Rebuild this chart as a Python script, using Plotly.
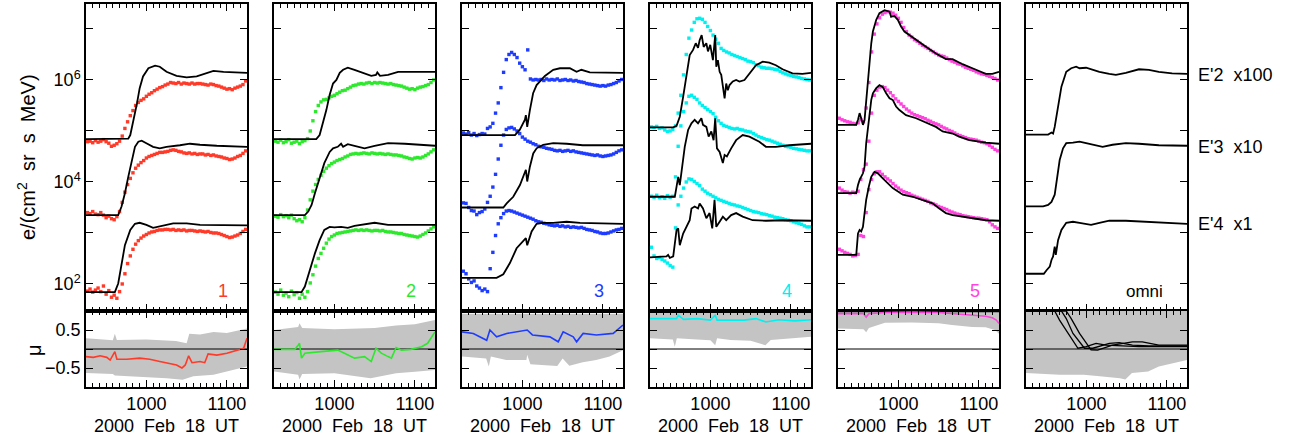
import numpy as np
import plotly.graph_objects as go

# ---------------- data (time in minutes of day, fluxes as log10) ----------------
T_DOT = list(range(556, 676, 2))          # sample times of the measured points
X_RANGE = [555, 675]                       # 09:15 .. 11:15 UT
X_TICKS = [600, 660]
X_TICKTEXT = ["1000", "1100"]
COLORS = ["#ff3a28", "#2ee82e", "#1e3cff", "#00f0f0", "#ff44dd"]
PANEL_LABELS = ["1", "2", "3", "4", "5", "omni"]
CURVE_LABELS = ["E'2\u00a0 x100", "E'3\u00a0 x10", "E'4\u00a0 x1"]

# ---- panel 1 ----
P1_UP_DOTS = [4.79,4.80,4.77,4.81,4.78,4.80,4.83,4.79,4.76,4.70,4.72,4.75,4.80,4.90,5.05,5.18,5.30,5.40,5.50,5.56,
              5.60,5.63,5.68,5.72,5.75,5.79,5.82,5.85,5.87,5.90,5.92,5.95,5.94,5.93,5.95,5.92,5.94,5.93,5.92,5.94,
              5.92,5.93,5.93,5.92,5.91,5.90,5.92,5.91,5.89,5.88,5.86,5.84,5.82,5.83,5.81,5.84,5.86,5.88,5.91,5.98]
P1_MID_DOTS = [3.40,3.38,3.42,3.37,3.36,3.40,3.35,3.30,3.33,3.28,3.26,3.32,3.42,3.60,3.80,3.95,4.07,4.18,4.27,4.33,
               4.38,4.42,4.47,4.50,4.52,4.54,4.56,4.58,4.58,4.59,4.60,4.62,4.63,4.62,4.60,4.59,4.57,4.56,4.57,4.55,
               4.56,4.54,4.55,4.55,4.53,4.54,4.52,4.53,4.51,4.50,4.49,4.47,4.46,4.44,4.45,4.47,4.50,4.52,4.56,4.61]
P1_LOW_DOTS = [1.86,1.90,1.84,1.88,1.92,1.85,1.96,1.80,1.87,1.74,1.78,1.72,1.85,2.00,2.20,2.40,2.55,2.68,2.78,2.85,
               2.90,2.94,2.97,3.00,3.02,3.03,3.05,3.06,3.06,3.07,3.07,3.06,3.07,3.05,3.06,3.05,3.06,3.04,3.05,3.05,
               3.04,3.03,3.04,3.03,3.02,3.03,3.01,3.00,3.00,2.99,2.97,2.95,2.93,2.91,2.92,2.94,2.96,2.99,3.03,3.07]
P1_UP_T = [555, 586.5, 588, 590.5, 593, 595, 597.5, 601.5, 606.5, 610, 615, 622.5, 630, 637.5, 642.5, 650, 657.5, 675]
P1_UP_V = [4.84, 4.85, 4.92, 5.22, 5.54, 5.84, 6.07, 6.23, 6.28, 6.26, 6.16, 6.08, 6.05, 6.07, 6.12, 6.18, 6.16, 6.14]
P1_MID_T = [555, 579, 581.5, 584, 586.5, 589, 591.5, 594, 596.5, 600, 605, 610, 615, 625, 632.5, 640, 652.5, 675]
P1_MID_V = [3.35, 3.35, 3.52, 3.78, 4.10, 4.43, 4.69, 4.79, 4.81, 4.76, 4.69, 4.66, 4.69, 4.72, 4.75, 4.73, 4.71, 4.69]
P1_LOW_T = [555, 576.5, 579, 581.5, 584, 588, 591.5, 595, 600, 605, 612.5, 620, 630, 640, 675]
P1_LOW_V = [1.84, 1.84, 2.01, 2.41, 2.76, 3.06, 3.18, 3.20, 3.16, 3.10, 3.14, 3.19, 3.19, 3.16, 3.15]
P1_MU_T = [555, 560.5, 565.5, 570.5, 573, 575.5, 576.5, 578, 585.5, 595, 602.5, 610, 615, 622.5, 626.5, 629, 631.5,
           634, 640, 643.5, 646, 652.5, 660, 667.5, 672.5, 675]
P1_MU_V = [-0.20, -0.22, -0.18, -0.22, -0.29, -0.11, -0.07, -0.27, -0.27, -0.24, -0.27, -0.33, -0.37, -0.42, -0.50,
           -0.42, -0.18, -0.36, -0.33, -0.36, -0.13, -0.16, -0.11, -0.03, 0.02, 0.28]
P1_BAND_UP_T = [555, 575, 576.5, 578, 600, 622, 630, 632, 640, 650, 660, 675]
P1_BAND_UP_V = [0.28, 0.23, 0.40, 0.24, 0.25, 0.21, 0.15, 0.40, 0.38, 0.45, 0.42, 0.54]
P1_BAND_LO_T = [555, 575, 576.5, 590, 615, 627, 635, 650, 660, 675]
P1_BAND_LO_V = [-0.63, -0.66, -0.70, -0.72, -0.77, -0.81, -0.72, -0.68, -0.60, -0.46]

# ---- panel 2 ----
P2_UP_DOTS = [4.80,4.78,4.82,4.77,4.79,4.83,4.76,4.78,4.80,4.75,4.79,4.81,4.85,5.00,5.20,5.38,5.50,5.57,5.61,5.62,
              5.65,5.68,5.70,5.73,5.76,5.79,5.80,5.83,5.86,5.89,5.90,5.92,5.93,5.92,5.94,5.95,5.93,5.95,5.94,5.95,
              5.94,5.93,5.92,5.93,5.91,5.90,5.89,5.88,5.86,5.84,5.82,5.83,5.81,5.84,5.86,5.87,5.89,5.91,5.95,6.00]
P2_MID_DOTS = [3.33,3.31,3.36,3.32,3.34,3.30,3.35,3.28,3.24,3.26,3.22,3.30,3.45,3.65,3.82,3.95,4.05,4.13,4.21,4.27,
               4.32,4.36,4.39,4.42,4.44,4.46,4.49,4.51,4.54,4.55,4.56,4.55,4.56,4.57,4.56,4.55,4.57,4.56,4.55,4.56,
               4.55,4.54,4.55,4.54,4.53,4.53,4.52,4.51,4.49,4.48,4.46,4.45,4.47,4.48,4.47,4.49,4.52,4.55,4.59,4.63]
P2_LOW_DOTS = [1.84,1.80,1.88,1.78,1.82,1.75,1.86,1.79,1.83,1.72,1.80,1.74,1.85,2.02,2.18,2.35,2.50,2.60,2.70,2.80,
               2.88,2.93,2.96,2.99,3.00,3.01,3.02,3.03,3.04,3.05,3.06,3.05,3.06,3.05,3.06,3.05,3.04,3.05,3.05,3.04,
               3.05,3.03,3.02,3.02,3.01,3.00,2.99,2.99,2.97,2.96,2.95,2.94,2.93,2.92,2.94,2.97,3.00,3.04,3.08,3.12]
P2_UP_T = [555, 586.5, 589, 591.5, 594, 596.5, 599, 601.5, 602.5, 604, 606.5, 610, 615, 622.5, 627.5, 631, 632, 634,
           640, 647.5, 665, 675]
P2_UP_V = [4.84, 4.84, 4.92, 5.15, 5.41, 5.71, 5.93, 6.00, 6.05, 6.14, 6.20, 6.24, 6.20, 6.12, 6.08, 6.10, 6.15, 6.08,
           6.10, 6.16, 6.16, 6.16]
P2_MID_T = [555, 578, 580.5, 583, 585.5, 589, 592.5, 596.5, 599, 602.5, 605, 606.5, 610, 615, 622.5, 630, 640, 652.5, 675]
P2_MID_V = [3.35, 3.35, 3.42, 3.55, 3.78, 4.10, 4.37, 4.59, 4.66, 4.69, 4.75, 4.69, 4.74, 4.71, 4.66, 4.71, 4.76, 4.75, 4.71]
P2_LOW_T = [555, 575.5, 578, 581.5, 585.5, 589, 592.5, 596.5, 600, 605, 610, 615, 625, 630, 640, 675]
P2_LOW_V = [1.84, 1.84, 1.95, 2.27, 2.60, 2.86, 3.06, 3.12, 3.11, 3.12, 3.10, 3.14, 3.18, 3.20, 3.16, 3.16]
P2_MU_T = [555, 570.5, 573, 574, 575.5, 578, 590, 602.5, 607.5, 615, 622.5, 627.5, 631, 635, 640, 642.5, 646, 650,
           657, 665, 669.5, 675]
P2_MU_V = [-0.01, -0.01, 0.10, 0.15, -0.24, -0.11, -0.07, -0.03, -0.11, -0.24, -0.20, -0.33, 0.02, -0.11, -0.20,
           -0.24, 0.04, -0.03, -0.01, 0.06, 0.15, 0.45]
P2_BAND_UP_T = [555, 573, 574, 576, 600, 630, 646, 660, 675]
P2_BAND_UP_V = [0.50, 0.58, 0.68, 0.55, 0.52, 0.55, 0.62, 0.65, 0.76]
P2_BAND_LO_T = [555, 573, 574, 576, 600, 627, 646, 660, 675]
P2_BAND_LO_V = [-0.59, -0.68, -0.80, -0.66, -0.64, -0.77, -0.64, -0.60, -0.55]

# ---- panel 3 ----
P3_UP_DOTS = [4.96,4.94,4.97,4.92,4.95,4.91,4.93,4.95,4.94,5.05,5.08,5.15,5.35,5.55,5.85,6.15,6.40,6.50,6.54,6.50,
              6.44,6.33,6.26,6.20,6.59,6.02,6.00,6.01,6.00,6.01,5.99,6.02,6.00,6.01,6.00,6.02,5.99,6.00,6.01,5.99,
              6.00,5.98,5.99,5.97,5.96,5.95,5.93,5.92,5.91,5.90,5.89,5.88,5.89,5.88,5.90,5.91,5.93,5.95,5.98,6.01]
P3_MID_DOTS = [3.59,3.58,3.50,3.44,3.43,3.36,3.40,3.42,3.47,3.60,3.72,3.90,4.15,4.45,4.72,4.92,5.03,5.06,5.07,5.04,
               5.00,4.95,4.88,4.84,4.80,4.78,4.75,4.73,4.70,4.69,4.68,4.66,4.65,4.64,4.62,4.61,4.62,4.60,4.61,4.62,
               4.60,4.61,4.59,4.58,4.57,4.56,4.55,4.54,4.53,4.52,4.53,4.51,4.50,4.51,4.52,4.53,4.55,4.58,4.61,4.63]
P3_LOW_DOTS = [2.25,2.20,2.10,2.03,2.06,1.96,1.92,1.87,1.90,1.85,2.30,2.62,2.95,3.18,3.30,3.38,3.43,3.44,3.43,3.41,
               3.39,3.37,3.35,3.33,3.31,3.29,3.27,3.24,3.22,3.21,3.19,3.18,3.16,3.15,3.14,3.15,3.13,3.14,3.12,3.13,
               3.11,3.12,3.11,3.10,3.11,3.09,3.07,3.06,3.05,3.03,3.02,3.00,2.99,2.99,3.00,3.02,3.04,3.06,3.07,3.09]
P3_UP_T = [555, 594.5, 598, 601.9, 602.6, 603.6, 605.6, 608, 610.6, 613, 616.8, 623, 628, 635.4, 640.4, 644, 650.3, 675]
P3_UP_V = [4.92, 4.92, 5.02, 5.22, 5.31, 5.08, 5.41, 5.74, 5.90, 5.97, 6.08, 6.20, 6.23, 6.23, 6.16, 6.20, 6.15, 6.14]
P3_MID_T = [555, 585.8, 588.3, 593.2, 598.2, 601.9, 602.6, 603.6, 605.6, 608.1, 610.6, 615.5, 623, 633, 645, 675]
P3_MID_V = [3.50, 3.50, 3.58, 3.71, 3.94, 4.20, 4.24, 4.01, 4.30, 4.56, 4.66, 4.73, 4.76, 4.75, 4.72, 4.72]
P3_LOW_T = [555, 580.8, 585.8, 590.7, 595.7, 600.7, 602.6, 603.6, 606.9, 610.6, 615.5, 623, 633, 643, 675]
P3_LOW_V = [2.12, 2.12, 2.19, 2.41, 2.70, 2.83, 2.90, 2.76, 3.03, 3.18, 3.20, 3.20, 3.22, 3.20, 3.18]
P3_MU_T = [555, 563.4, 573.4, 575.8, 580.8, 588.3, 603.6, 607.5, 620.5, 626.7, 630.4, 637.9, 640.4, 645.3, 655.2,
           667.7, 675]
P3_MU_V = [0.45, 0.41, 0.23, 0.50, 0.32, 0.41, 0.50, 0.37, 0.32, 0.19, 0.45, 0.32, 0.19, 0.41, 0.37, 0.41, 0.63]
P3_BAND_UP_T = [555, 675]
P3_BAND_UP_V = [0.93, 0.93]
P3_BAND_LO_T = [555, 573, 575, 576.5, 588, 603, 603.6, 606, 626, 630, 635, 645, 655, 665, 675]
P3_BAND_LO_V = [-0.20, -0.25, -0.46, -0.20, -0.29, -0.29, -0.15, -0.40, -0.45, -0.25, -0.44, -0.35, -0.29, -0.20, -0.03]

# ---- panel 4 ----
P4_UP_DOTS = [5.08,5.07,5.09,5.05,5.06,5.02,4.99,5.00,5.03,5.10,5.35,5.70,6.10,6.50,6.82,6.98,7.13,7.20,7.21,7.19,
              7.13,7.05,6.97,6.88,6.80,6.72,6.62,6.58,6.55,6.53,6.50,6.48,6.46,6.44,6.42,6.40,6.37,6.36,6.34,6.30,
              6.28,6.25,6.24,6.23,6.23,6.22,6.21,6.20,6.17,6.14,6.12,6.10,6.09,6.07,6.06,6.05,6.03,6.02,6.01,6.00]
P4_MID_DOTS = [3.72,3.70,3.74,3.69,3.71,3.68,3.73,3.70,3.72,4.10,4.70,5.10,5.38,5.55,5.68,5.70,5.66,5.62,5.55,5.50,
               5.46,5.42,5.38,5.34,5.27,5.20,5.15,5.11,5.09,5.07,5.05,5.04,5.05,5.03,5.02,5.00,4.99,4.98,4.95,4.92,
               4.89,4.87,4.85,4.83,4.82,4.80,4.78,4.76,4.74,4.72,4.70,4.69,4.68,4.66,4.65,4.64,4.63,4.62,4.61,4.61]
P4_LOW_DOTS = [2.72,2.55,2.50,2.52,2.48,2.45,2.41,2.36,2.33,3.10,3.55,3.72,3.88,4.00,4.06,4.05,4.01,3.97,3.93,3.86,
               3.82,3.78,3.75,3.72,3.69,3.66,3.64,3.62,3.60,3.58,3.56,3.55,3.53,3.52,3.50,3.48,3.46,3.44,3.42,3.41,
               3.40,3.38,3.37,3.36,3.34,3.33,3.31,3.30,3.29,3.28,3.26,3.25,3.24,3.22,3.20,3.19,3.17,3.14,3.12,3.12]
P4_UP_T = [555, 572.3, 574.8, 577.2, 579.7, 582.2, 584.6, 587.1, 589.1, 590.8, 592, 593.5, 595, 597, 598.2, 599.9,
           601.9, 603.6, 604.4, 605.6, 606.9, 608.1, 609.3, 610.6, 611.8, 613, 614.3, 616.7, 619.2, 621.7, 625.4,
           629.1, 634, 639, 643.9, 648.8, 653.8, 661.2, 668.6, 675]
P4_UP_V = [5.07, 5.07, 5.10, 5.28, 5.67, 6.13, 6.49, 6.59, 6.72, 6.63, 6.78, 6.88, 6.65, 6.72, 6.56, 6.69, 6.39, 6.88,
           6.26, 6.39, 6.16, 6.10, 5.87, 5.64, 5.93, 5.80, 5.90, 5.97, 6.00, 5.97, 6.00, 6.13, 6.29, 6.36, 6.34, 6.29,
           6.21, 6.13, 6.12, 6.14]
P4_MID_T = [555, 573.5, 574.8, 576, 577.2, 578.5, 580.9, 583.4, 585.9, 588.3, 590.8, 593.3, 594.5, 597, 598.7, 600.7,
            602.4, 603.6, 604.9, 606.9, 608.1, 609.3, 610.6, 612.3, 615.5, 619.2, 624.1, 629.1, 636.5, 641.4, 648.8,
            658.7, 675]
P4_MID_V = [3.71, 3.71, 3.91, 4.10, 3.94, 4.24, 4.69, 5.02, 5.15, 5.22, 5.15, 5.25, 5.12, 5.08, 4.89, 4.99, 4.82, 5.25,
            4.66, 4.59, 4.50, 4.37, 4.53, 4.50, 4.66, 4.82, 4.92, 4.89, 4.79, 4.69, 4.69, 4.72, 4.75]
P4_LOW_T = [555, 567.3, 568.5, 569.8, 572.3, 574.8, 576, 577.2, 579.7, 582.2, 584.6, 585.9, 588.3, 590.8, 592, 594.5,
            597, 599.4, 601.4, 603.1, 604.4, 606.9, 609.3, 611.8, 615.5, 619.2, 624.1, 631.5, 641.4, 653.8, 663.6, 675]
P4_LOW_V = [2.52, 2.54, 2.57, 2.51, 2.54, 3.06, 3.09, 2.76, 2.99, 3.12, 3.25, 3.48, 3.52, 3.48, 3.58, 3.48, 3.29, 3.39,
            3.09, 3.65, 3.12, 3.22, 3.32, 3.25, 3.35, 3.39, 3.32, 3.25, 3.24, 3.25, 3.24, 3.24]
P4_MU_T = [555, 574.8, 576, 580, 590, 600, 603.6, 605, 615, 625, 634, 641.4, 651, 663, 675]
P4_MU_V = [0.80, 0.80, 0.89, 0.78, 0.80, 0.76, 0.89, 0.76, 0.76, 0.76, 0.80, 0.71, 0.77, 0.74, 0.77]
P4_BAND_UP_T = [555, 675]
P4_BAND_UP_V = [0.95, 0.95]
P4_BAND_LO_T = [555, 572, 573.5, 575, 590, 600, 603.6, 605, 615, 630, 641, 645, 660, 675]
P4_BAND_LO_V = [0.28, 0.25, 0.06, 0.28, 0.25, 0.23, 0.10, 0.28, 0.24, 0.22, 0.10, 0.24, 0.28, 0.32]

# ---- panel 5 ----
P5_UP_DOTS = [5.25,5.22,5.20,5.18,5.17,5.15,5.14,5.16,5.22,5.18,5.45,5.95,6.55,6.90,7.10,7.22,7.29,7.32,7.34,7.33,
              7.31,7.27,7.21,7.13,7.03,6.95,6.88,6.84,6.79,6.76,6.72,6.68,6.65,6.62,6.58,6.55,6.52,6.49,6.47,6.46,
              6.43,6.40,6.37,6.35,6.32,6.31,6.28,6.25,6.23,6.21,6.19,6.16,6.14,6.12,6.11,6.09,6.07,6.05,6.03,6.00]
P5_MID_DOTS = [3.88,3.84,3.81,3.80,3.78,3.80,3.79,3.82,4.05,4.24,4.35,4.80,5.35,5.70,5.80,5.86,5.87,5.85,5.80,5.75,
               5.69,5.63,5.58,5.53,5.48,5.43,5.39,5.35,5.32,5.30,5.28,5.26,5.24,5.21,5.19,5.16,5.14,5.12,5.09,5.06,
               5.04,5.01,4.99,4.96,4.93,4.91,4.89,4.87,4.85,4.84,4.83,4.82,4.80,4.78,4.77,4.75,4.72,4.68,4.64,4.61]
P5_LOW_DOTS = [2.68,2.65,2.62,2.60,2.58,2.55,2.56,2.58,2.95,2.93,3.40,3.85,4.05,4.16,4.20,4.20,4.15,4.10,4.06,4.02,
               3.97,3.92,3.88,3.84,3.81,3.79,3.77,3.74,3.72,3.70,3.68,3.66,3.64,3.62,3.59,3.57,3.55,3.52,3.50,3.48,
               3.46,3.43,3.41,3.39,3.37,3.36,3.34,3.33,3.32,3.31,3.30,3.29,3.29,3.28,3.27,3.26,3.22,3.16,3.12,3.09]
P5_UP_T = [555, 568.6, 569.9, 571.1, 572.3, 573.6, 574.8, 576, 577.3, 578.5, 579.8, 581, 583.5, 585.9, 589.7, 593.4,
           594.6, 595.8, 597.1, 599.6, 602, 604.5, 608.2, 613.2, 620.6, 628, 633, 635.4, 640.4, 647.8, 655.2, 660.2,
           665.1, 670.1, 675]
P5_UP_V = [5.12, 5.12, 5.22, 5.35, 5.25, 5.12, 5.22, 5.61, 6.00, 6.39, 6.72, 6.95, 7.18, 7.31, 7.37, 7.34, 7.24, 7.25,
           7.25, 7.18, 7.05, 6.95, 6.88, 6.78, 6.65, 6.52, 6.44, 6.41, 6.41, 6.31, 6.23, 6.18, 6.12, 6.12, 6.16]
P5_MID_T = [555, 568.6, 569.9, 571.1, 573.6, 574.8, 576, 577.3, 578.5, 579.8, 581, 583.5, 585.9, 588.4, 590.9, 593.4,
            595.8, 598.3, 600.8, 605.7, 613.2, 620.6, 628, 633, 640.4, 645.3, 652.8, 660.2, 665.1, 675]
P5_MID_V = [3.78, 3.78, 3.94, 4.04, 4.17, 4.30, 4.76, 5.08, 5.35, 5.61, 5.74, 5.84, 5.90, 5.86, 5.74, 5.64, 5.61, 5.48,
            5.41, 5.31, 5.25, 5.16, 5.08, 4.99, 4.95, 4.89, 4.82, 4.79, 4.77, 4.75]
P5_LOW_T = [555, 568.6, 569.9, 571.1, 572.3, 573.6, 574.8, 576, 578, 579.8, 582.2, 584.7, 588.4, 593.4, 595.8, 598.3,
            603.3, 610.7, 618.1, 625.5, 630.5, 635.4, 640.4, 647.8, 657.7, 665.1, 675]
P5_LOW_V = [2.57, 2.57, 2.99, 3.06, 3.03, 3.12, 3.39, 3.65, 3.91, 4.10, 4.20, 4.17, 4.07, 3.94, 3.88, 3.84, 3.75, 3.71,
            3.65, 3.58, 3.48, 3.39, 3.35, 3.32, 3.29, 3.25, 3.24]
P5_MU_T = [555, 574, 576, 578, 590, 610, 630, 640, 652, 665, 670, 673, 675]
P5_MU_V = [0.93, 0.93, 0.84, 0.93, 0.96, 0.97, 0.96, 0.93, 0.91, 0.86, 0.82, 0.76, 0.67]
P5_BAND_UP_T = [555, 675]
P5_BAND_UP_V = [0.97, 0.97]
P5_BAND_LO_T = [555, 574, 576, 578, 590, 610, 630, 640, 655, 665, 672, 675]
P5_BAND_LO_V = [0.54, 0.52, 0.44, 0.55, 0.69, 0.70, 0.68, 0.63, 0.58, 0.57, 0.50, 0.40]

# ---- panel 6 (omni, model only) ----
P6_UP_T = [555, 571.5, 574, 575.2, 576.4, 578.9, 581.4, 585, 588.7, 592.4, 594.9, 599.8, 604.8, 609.7, 617.1, 622,
           629.4, 639.2, 646.6, 654, 663.9, 675]
P6_UP_V = [4.93, 4.93, 4.97, 4.95, 5.08, 5.48, 5.87, 6.16, 6.23, 6.26, 6.23, 6.24, 6.20, 6.16, 6.12, 6.10, 6.14, 6.21,
           6.20, 6.16, 6.13, 6.12]
P6_MID_T = [555, 567.8, 571.5, 574, 576.4, 578.9, 580.1, 582.6, 585, 590, 594.9, 599.8, 604.8, 612.1, 619.5, 629.4,
            639.2, 654, 675]
P6_MID_V = [3.52, 3.52, 3.55, 3.61, 3.75, 4.17, 4.43, 4.66, 4.76, 4.77, 4.79, 4.76, 4.73, 4.69, 4.73, 4.76, 4.75, 4.72,
            4.71]
P6_LOW_T = [555, 568.3, 570.3, 571.5, 572.7, 574, 575.2, 576.4, 577.2, 578.9, 581.4, 585, 590, 594.9, 599.8, 603.5,
            609.7, 617.1, 629.4, 641.7, 654, 675]
P6_LOW_V = [2.20, 2.20, 2.27, 2.31, 2.34, 2.47, 2.54, 2.73, 2.57, 2.86, 3.06, 3.20, 3.22, 3.20, 3.18, 3.16, 3.20, 3.24,
            3.24, 3.22, 3.20, 3.18]
P6_MU_A_T = [555, 576.4, 580, 586.3, 593.7, 599.8, 607.2, 614.6, 624.5, 639.2, 675]
P6_MU_A_V = [1.0, 1.0, 0.76, 0.41, 0.02, 0.06, 0.15, 0.10, 0.08, 0.06, 0.06]
P6_MU_B_T = [555, 581.4, 585, 590, 598.6, 604.8, 617.1, 624.5, 634.3, 646.6, 675]
P6_MU_B_V = [1.0, 1.0, 0.80, 0.41, 0.02, 0.02, 0.15, 0.17, 0.10, 0.08, 0.08]
P6_MU_C_T = [555, 585, 588.7, 594.9, 603.5, 608.4, 619.5, 634.3, 641.7, 654, 675]
P6_MU_C_V = [1.0, 1.0, 0.80, 0.41, -0.02, -0.03, 0.10, 0.19, 0.19, 0.10, 0.10]
P6_BAND_UP_T = [555, 675]
P6_BAND_UP_V = [1.0, 1.0]
P6_BAND_LO_T = [555, 580, 598, 610, 625, 629, 634, 646, 654, 664, 675]
P6_BAND_LO_V = [-0.63, -0.68, -0.68, -0.72, -0.77, -0.80, -0.63, -0.59, -0.46, -0.37, -0.29]

# ---------------- assemble ----------------
PANELS = [
    dict(dots=[P1_UP_DOTS, P1_MID_DOTS, P1_LOW_DOTS],
         lines=[(P1_UP_T, P1_UP_V), (P1_MID_T, P1_MID_V), (P1_LOW_T, P1_LOW_V)],
         mu=[(P1_MU_T, P1_MU_V)], band=(P1_BAND_UP_T, P1_BAND_UP_V, P1_BAND_LO_T, P1_BAND_LO_V)),
    dict(dots=[P2_UP_DOTS, P2_MID_DOTS, P2_LOW_DOTS],
         lines=[(P2_UP_T, P2_UP_V), (P2_MID_T, P2_MID_V), (P2_LOW_T, P2_LOW_V)],
         mu=[(P2_MU_T, P2_MU_V)], band=(P2_BAND_UP_T, P2_BAND_UP_V, P2_BAND_LO_T, P2_BAND_LO_V)),
    dict(dots=[P3_UP_DOTS, P3_MID_DOTS, P3_LOW_DOTS],
         lines=[(P3_UP_T, P3_UP_V), (P3_MID_T, P3_MID_V), (P3_LOW_T, P3_LOW_V)],
         mu=[(P3_MU_T, P3_MU_V)], band=(P3_BAND_UP_T, P3_BAND_UP_V, P3_BAND_LO_T, P3_BAND_LO_V)),
    dict(dots=[P4_UP_DOTS, P4_MID_DOTS, P4_LOW_DOTS],
         lines=[(P4_UP_T, P4_UP_V), (P4_MID_T, P4_MID_V), (P4_LOW_T, P4_LOW_V)],
         mu=[(P4_MU_T, P4_MU_V)], band=(P4_BAND_UP_T, P4_BAND_UP_V, P4_BAND_LO_T, P4_BAND_LO_V)),
    dict(dots=[P5_UP_DOTS, P5_MID_DOTS, P5_LOW_DOTS],
         lines=[(P5_UP_T, P5_UP_V), (P5_MID_T, P5_MID_V), (P5_LOW_T, P5_LOW_V)],
         mu=[(P5_MU_T, P5_MU_V)], band=(P5_BAND_UP_T, P5_BAND_UP_V, P5_BAND_LO_T, P5_BAND_LO_V)),
    dict(dots=[],
         lines=[(P6_UP_T, P6_UP_V), (P6_MID_T, P6_MID_V), (P6_LOW_T, P6_LOW_V)],
         mu=[(P6_MU_A_T, P6_MU_A_V), (P6_MU_B_T, P6_MU_B_V), (P6_MU_C_T, P6_MU_C_V)],
         band=(P6_BAND_UP_T, P6_BAND_UP_V, P6_BAND_LO_T, P6_BAND_LO_V)),
]

W, H = 1307, 444
LEFTS = [86, 274, 462, 650, 838, 1026]
PW = 161
Y_TOP, Y_MID, Y_BOT = 4, 311, 387
FONT = "Liberation Sans, Arial, sans-serif"
GRAY = "#c4c4c4"


def fx(p):
    return p / W


def fy(p):
    return 1 - p / H


fig = go.Figure()
layout = dict(width=W, height=H, margin=dict(l=0, r=0, t=0, b=0),
              paper_bgcolor="white", plot_bgcolor="white", showlegend=False,
              font=dict(family=FONT, size=18, color="black"))
annotations = []

for k, pan in enumerate(PANELS):
    a, b = 2 * k + 1, 2 * k + 2
    xa_t, ya_t = f"x{a}", f"y{a}"
    xa_b, ya_b = f"x{b}", f"y{b}"
    col = COLORS[k] if k < 5 else "black"
    xdom = [fx(LEFTS[k]), fx(LEFTS[k] + PW)]

    # measured points
    for vals in pan["dots"]:
        fig.add_trace(go.Scatter(x=T_DOT, y=10 ** np.array(vals), mode="markers",
                                 marker=dict(symbol="square", size=3.4, color=col, line=dict(width=0)),
                                 xaxis=xa_t, yaxis=ya_t, hoverinfo="skip"))
    # model curves
    for (t, v) in pan["lines"]:
        fig.add_trace(go.Scatter(x=t, y=10 ** np.array(v), mode="lines",
                                 line=dict(color="black", width=1.8),
                                 xaxis=xa_t, yaxis=ya_t, hoverinfo="skip"))
    # mu band
    ut, uv, lt, lv = pan["band"]
    fig.add_trace(go.Scatter(x=list(ut) + list(lt)[::-1], y=list(uv) + list(lv)[::-1],
                             mode="lines", fill="toself", fillcolor=GRAY,
                             line=dict(width=0, color=GRAY), xaxis=xa_b, yaxis=ya_b, hoverinfo="skip"))
    fig.add_trace(go.Scatter(x=X_RANGE, y=[0, 0], mode="lines", line=dict(color="black", width=1),
                             xaxis=xa_b, yaxis=ya_b, hoverinfo="skip"))
    for (t, v) in pan["mu"]:
        fig.add_trace(go.Scatter(x=t, y=v, mode="lines",
                                 line=dict(color=col, width=1.6 if k < 5 else 1.3),
                                 xaxis=xa_b, yaxis=ya_b, hoverinfo="skip"))

    axis_common = dict(showline=True, linecolor="black", linewidth=1.5, mirror="allticks",
                       ticks="inside", tickcolor="black", tickwidth=1, showgrid=False, zeroline=False,
                       tickfont=dict(family=FONT, size=18, color="black"))
    x_common = dict(axis_common, range=X_RANGE, tickmode="array", tickvals=X_TICKS, ticktext=X_TICKTEXT,
                    ticklen=7, domain=xdom,
                    minor=dict(ticks="inside", ticklen=4, tick0=555, dtick=5, tickcolor="black", showgrid=False))
    layout[f"xaxis{a}"] = dict(x_common, anchor=ya_t, showticklabels=False)
    layout[f"xaxis{b}"] = dict(x_common, anchor=ya_b, showticklabels=True)
    layout[f"yaxis{a}"] = dict(axis_common, type="log", range=[1.47, 7.49], domain=[fy(Y_MID), fy(Y_TOP)],
                               anchor=xa_t, tickmode="array", tickvals=[1e2, 1e4, 1e6],
                               ticktext=["10<sup>2</sup>", "10<sup>4</sup>", "10<sup>6</sup>"], ticklen=7,
                               minor=dict(tickmode="array", tickvals=[1e3, 1e5, 1e7], ticks="inside", ticklen=7,
                                          tickcolor="black", showgrid=False),
                               showticklabels=(k == 0))
    layout[f"yaxis{b}"] = dict(axis_common, range=[-1, 1], domain=[fy(Y_BOT), fy(Y_MID)], anchor=xa_b,
                               tickmode="array", tickvals=[-0.5, 0.5], ticktext=["\u22120.5", "0.5"],
                               minor=dict(tickmode="array", tickvals=[0], ticks="inside", ticklen=7,
                                          tickcolor="black", showgrid=False),
                               ticklen=7, showticklabels=(k == 0))

    # x title under each column
    annotations.append(dict(text="2000\u00a0 Feb\u00a0 18\u00a0 UT", x=fx(LEFTS[k] + PW / 2), y=fy(426),
                            xref="paper", yref="paper", showarrow=False, xanchor="center", yanchor="middle",
                            font=dict(family=FONT, size=18, color="black")))
    # panel label
    lab_x = LEFTS[k] + PW - (24 if k < 5 else 43)
    annotations.append(dict(text=PANEL_LABELS[k], x=fx(lab_x), y=fy(291), xref="paper", yref="paper",
                            showarrow=False, xanchor="center", yanchor="middle",
                            font=dict(family=FONT, size=18 if k < 5 else 17, color=col)))

# right-hand curve labels
for lab, yp in zip(CURVE_LABELS, [75, 147, 224]):
    annotations.append(dict(text=lab, x=fx(1196), y=fy(yp), xref="paper", yref="paper", showarrow=False,
                            xanchor="left", yanchor="middle", font=dict(family=FONT, size=18, color="black")))
# axis titles
annotations.append(dict(text="e/(cm<sup>2</sup>\u00a0 sr\u00a0 s\u00a0 MeV)", x=fx(26), y=fy(157), xref="paper",
                        yref="paper", showarrow=False, textangle=-90, xanchor="center", yanchor="middle",
                        font=dict(family=FONT, size=20, color="black")))
annotations.append(dict(text="\u03bc", x=fx(34), y=fy(350), xref="paper", yref="paper", showarrow=False,
                        textangle=-90, xanchor="center", yanchor="middle",
                        font=dict(family=FONT, size=20, color="black")))

layout["annotations"] = annotations
fig.update_layout(**layout)
# remove the browser's default 8px body margin so the figure sits at the page origin
fig.write_html("out.html", config={"displayModeBar": False},
               post_script="document.body.style.margin='0';document.body.style.overflow='hidden';")
